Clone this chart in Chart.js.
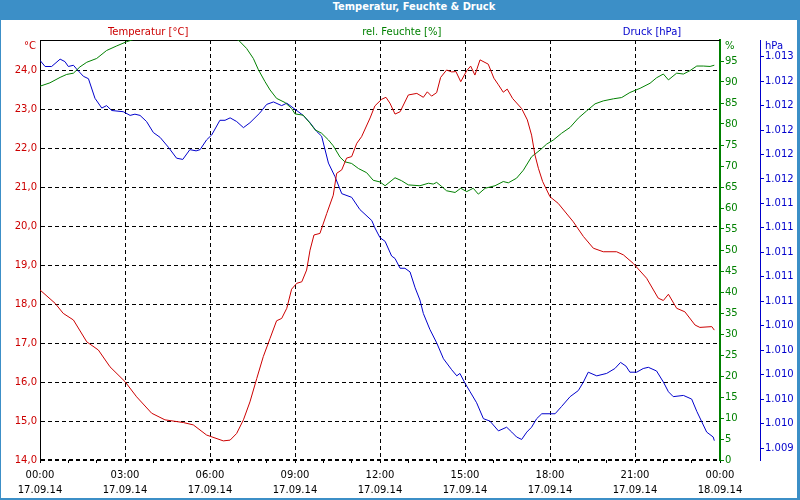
<!DOCTYPE html>
<html>
<head>
<meta charset="utf-8">
<script src="https://cdn.jsdelivr.net/npm/chart.js@4.4.0/dist/chart.umd.min.js"></script>
<style>
  body { margin: 0; background: #fff; }
  #frame { position: relative; width: 800px; height: 500px; background: #3c8fc7; }
  #titlebar {
    position: absolute; left: 0; top: 0; width: 800px; height: 20px; box-sizing: border-box;
    padding-left: 28px; line-height: 20px; text-align: center; color: #fff;
    font: bold 11px "DejaVu Sans Condensed", "DejaVu Sans", sans-serif;
  }
  #plot { position: absolute; left: 1px; top: 20px; width: 796px; height: 478px; background: #fff; }
</style>
</head>
<body>
<div id="frame">
  <div id="titlebar">Temperatur, Feuchte &amp; Druck</div>
  <div id="plot"><canvas id="chart" width="796" height="478"></canvas></div>
</div>
<script>
// Zeitachse (Stunden ab 17.09.14 00:00)
const timeLabels = ['00:00', '03:00', '06:00', '09:00', '12:00', '15:00', '18:00', '21:00', '00:00'];
const dateLabels = ['17.09.14', '17.09.14', '17.09.14', '17.09.14', '17.09.14', '17.09.14', '17.09.14', '17.09.14', '18.09.14'];

// Temperatur [°C]
const tempHours = [0, 0.53, 0.82, 1.18, 1.65, 2.06, 2.47, 3.00, 3.41, 3.94, 4.41, 5.06, 5.41, 5.88, 6.47, 6.71, 6.94, 7.18, 7.41, 7.65,
  7.88, 8.12, 8.35, 8.53, 8.71, 8.88, 9.06, 9.24, 9.41, 9.53, 9.67, 9.88, 10.12, 10.35, 10.47, 10.65, 10.82, 11.00, 11.18, 11.35,
  11.65, 11.82, 12.06, 12.21, 12.35, 12.53, 12.71, 13.00, 13.30, 13.53, 13.67, 13.82, 14.00, 14.14, 14.35, 14.53, 14.68, 14.85, 15.06, 15.20,
  15.35, 15.53, 15.82, 16.02, 16.18, 16.35, 16.49, 16.68, 17.00, 17.20, 17.35, 17.47, 17.59, 17.74, 18.00, 18.29, 18.82, 19.18, 19.53, 19.88,
  20.35, 20.59, 20.94, 21.41, 21.82, 22.00, 22.18, 22.47, 22.76, 23.12, 23.29, 23.71, 23.80];
const tempValues = [18.36, 18.02, 17.76, 17.59, 17.03, 16.82, 16.39, 16.01, 15.62, 15.20, 15.03, 14.96, 14.90, 14.64, 14.49, 14.51, 14.68, 15.03, 15.49, 16.09,
  16.65, 17.12, 17.57, 17.63, 17.89, 18.38, 18.53, 18.57, 18.87, 19.38, 19.77, 19.81, 20.32, 20.79, 21.35, 21.44, 21.74, 21.78, 22.12, 22.29,
  22.77, 23.08, 23.25, 23.30, 23.15, 22.87, 22.93, 23.36, 23.40, 23.30, 23.44, 23.33, 23.42, 23.81, 24.00, 23.95, 23.96, 23.70, 23.98, 24.10,
  23.87, 24.26, 24.15, 23.79, 23.62, 23.43, 23.51, 23.27, 23.01, 22.72, 22.33, 21.82, 21.48, 21.14, 20.75, 20.58, 20.11, 19.73, 19.43, 19.34,
  19.34, 19.26, 19.04, 18.66, 18.15, 18.09, 18.25, 17.89, 17.80, 17.46, 17.40, 17.42, 17.33];

// rel. Feuchte [%] (zwischen ca. 03:15 und 07:00 oberhalb der Skala)
const humHours = [0, 0.35, 0.71, 0.94, 1.18, 1.41, 1.65, 2.00, 2.35, 2.71, 3.06, 3.24, 5.12, 7.00, 7.29, 7.53, 7.71, 7.94, 8.12, 8.35,
  8.65, 8.88, 9.00, 9.29, 9.53, 9.71, 9.94, 10.18, 10.35, 10.59, 10.76, 11.00, 11.24, 11.53, 11.76, 12.00, 12.18, 12.53, 12.76, 13.00,
  13.41, 13.71, 13.88, 14.00, 14.18, 14.35, 14.65, 14.85, 15.06, 15.29, 15.47, 15.71, 16.06, 16.35, 16.53, 16.82, 17.06, 17.35, 17.65, 17.88,
  18.12, 18.41, 18.71, 19.00, 19.29, 19.59, 19.88, 20.24, 20.53, 20.82, 21.18, 21.53, 21.76, 22.00, 22.18, 22.47, 22.71, 22.94, 23.18, 23.41,
  23.65, 23.80];
const humValues = [89.0, 89.8, 91.1, 91.8, 92.1, 93.6, 94.7, 95.6, 97.5, 98.6, 99.6, 100.0, 104.0, 100.0, 98.0, 95.6, 92.9, 90.1, 88.1, 86.1,
  85.1, 83.7, 82.4, 82.1, 80.2, 78.6, 77.8, 76.2, 74.8, 72.1, 71.0, 70.6, 69.4, 68.4, 66.6, 66.2, 65.3, 67.2, 66.5, 65.5,
  65.3, 65.9, 65.7, 66.1, 65.1, 64.1, 63.7, 64.7, 63.9, 64.7, 63.3, 64.7, 65.3, 66.3, 66.0, 67.1, 69.0, 72.2, 73.8, 75.2,
  76.2, 77.8, 79.2, 81.4, 83.1, 84.8, 85.5, 86.0, 86.3, 87.5, 88.5, 89.7, 91.0, 91.9, 90.5, 92.1, 91.9, 92.7, 93.8, 93.8,
  93.7, 94.0];

// Druck [hPa]
const pressHours = [0, 0.18, 0.41, 0.71, 0.88, 1.00, 1.18, 1.29, 1.53, 1.71, 1.94, 2.18, 2.35, 2.53, 2.94, 3.18, 3.35, 3.53, 3.76, 4.00,
  4.24, 4.53, 4.82, 5.04, 5.29, 5.51, 5.65, 5.88, 6.06, 6.35, 6.53, 6.71, 6.94, 7.18, 7.41, 7.76, 8.00, 8.24, 8.53, 8.71,
  9.00, 9.29, 9.53, 9.76, 9.94, 10.18, 10.41, 10.65, 11.00, 11.29, 11.71, 11.82, 12.00, 12.18, 12.41, 12.53, 12.71, 12.88, 13.06, 13.24,
  13.41, 13.53, 13.76, 14.00, 14.24, 14.53, 14.71, 14.82, 15.00, 15.18, 15.41, 15.65, 15.88, 16.18, 16.47, 16.65, 16.82, 17.00, 17.18, 17.35,
  17.53, 17.71, 18.18, 18.41, 18.71, 19.00, 19.18, 19.35, 19.65, 20.00, 20.29, 20.49, 20.68, 20.82, 21.06, 21.29, 21.47, 21.76, 22.00, 22.18,
  22.35, 22.71, 23.00, 23.18, 23.53, 23.76, 23.80];
const pressValues = [1.01297, 1.01292, 1.01292, 1.01298, 1.01296, 1.01292, 1.01293, 1.01290, 1.01284, 1.01282,
  1.01266, 1.01258, 1.01260, 1.01256, 1.01255, 1.01252, 1.01253, 1.01252, 1.01247, 1.01238,
  1.01234, 1.01226, 1.01217, 1.01216, 1.01224, 1.01223, 1.01224, 1.01232, 1.01236, 1.01248,
  1.01248, 1.01250, 1.01247, 1.01242, 1.01246, 1.01254, 1.01261, 1.01263, 1.01260, 1.01262,
  1.01257, 1.01252, 1.01246, 1.01239, 1.01235, 1.01213, 1.01202, 1.01188, 1.01185, 1.01175,
  1.01166, 1.01160, 1.01152, 1.01149, 1.01137, 1.01135, 1.01127, 1.01127, 1.01124, 1.01111,
  1.01101, 1.01090, 1.01077, 1.01066, 1.01053, 1.01044, 1.01039, 1.01041, 1.01033, 1.01026,
  1.01017, 1.01004, 1.01002, 1.00994, 1.00997, 1.00993, 1.00989, 1.00987, 1.00993, 1.00997,
  1.01004, 1.01008, 1.01008, 1.01014, 1.01022, 1.01027, 1.01034, 1.01042, 1.01039, 1.01041,
  1.01045, 1.01050, 1.01047, 1.01042, 1.01042, 1.01045, 1.01046, 1.01043, 1.01034, 1.01026,
  1.01022, 1.01023, 1.01020, 1.01010, 1.00993, 1.00989, 1.00986];

// Achsen-Ticks
const hourTicks = [0, 1, 2, 3, 4, 5, 6, 7, 8, 9, 10, 11, 12, 13, 14, 15, 16, 17, 18, 19, 20, 21, 22, 23, 24];
const tempTicks = [14, 15, 16, 17, 18, 19, 20, 21, 22, 23, 24];
const tempTickLabels = ['14,0', '15,0', '16,0', '17,0', '18,0', '19,0', '20,0', '21,0', '22,0', '23,0', '24,0'];
const humTicks = [0, 5, 10, 15, 20, 25, 30, 35, 40, 45, 50, 55, 60, 65, 70, 75, 80, 85, 90, 95];
const pressTicks = [1.0098, 1.0100, 1.0102, 1.0104, 1.0106, 1.0108, 1.0110, 1.0112, 1.0114, 1.0116,
  1.0118, 1.0120, 1.0122, 1.0124, 1.0126, 1.0128, 1.0130];
const pressTickLabels = ['1.009', '1.010', '1.010', '1.010', '1.010', '1.010', '1.011', '1.011', '1.011', '1.011',
  '1.011', '1.012', '1.012', '1.012', '1.012', '1.012', '1.013'];

const RED = '#cc0000';
const GREEN = '#008000';
const BLUE = '#0000cc';
const FONT = '"DejaVu Sans", Verdana, sans-serif';
const GRID_DASH = [4, 3];

Chart.defaults.font.family = FONT;
Chart.defaults.font.size = 10;

// Position der Reihen-Überschriften (Anteil der Diagrammbreite)
const headerPos = [0.159, 0.532, 0.9];

const headerLabels = {
  id: 'headerLabels',
  beforeDatasetsDraw(chart) {
    // obere Rahmenlinie
    const { ctx, chartArea } = chart;
    ctx.save();
    ctx.strokeStyle = '#000';
    ctx.lineWidth = 1;
    ctx.beginPath();
    ctx.moveTo(chartArea.left, chartArea.top + 0.5);
    ctx.lineTo(chartArea.right, chartArea.top + 0.5);
    ctx.stroke();
    ctx.restore();
  },
  afterDraw(chart) {
    const { ctx, chartArea, scales } = chart;
    ctx.save();
    ctx.font = '10px ' + FONT;
    ctx.textBaseline = 'middle';
    ctx.textAlign = 'center';
    chart.data.datasets.forEach((ds, i) => {
      ctx.fillStyle = ds.borderColor;
      const x = chartArea.left + (chartArea.right - chartArea.left) * headerPos[i];
      ctx.fillText(ds.label, x, chartArea.top - 8);
    });
    // Einheiten oben an den Achsen
    ctx.textAlign = 'right';
    ctx.fillStyle = RED;
    ctx.fillText('°C', scales.yTemp.right - 4, chartArea.top + 6);
    ctx.textAlign = 'left';
    ctx.fillStyle = GREEN;
    ctx.fillText('%', scales.yHum.left + 5, chartArea.top + 6);
    ctx.fillStyle = BLUE;
    ctx.fillText('hPa', scales.yPress.left + 5, chartArea.top + 6);
    ctx.restore();
  }
};

const toPoints = (xs, ys) => xs.map((x, i) => ({ x: x, y: ys[i] }));

new Chart(document.getElementById('chart'), {
  type: 'line',
  data: {
    datasets: [
      { label: 'Temperatur [°C]', data: toPoints(tempHours, tempValues), yAxisID: 'yTemp', borderColor: RED },
      { label: 'rel. Feuchte [%]', data: toPoints(humHours, humValues), yAxisID: 'yHum', borderColor: GREEN, clip: 0 },
      { label: 'Druck [hPa]', data: toPoints(pressHours, pressValues), yAxisID: 'yPress', borderColor: BLUE }
    ]
  },
  options: {
    responsive: false,
    animation: false,
    layout: { padding: { top: 20, left: 0, right: 0, bottom: 0 } },
    elements: {
      line: { borderWidth: 1, tension: 0, fill: false },
      point: { radius: 0, hoverRadius: 0 }
    },
    plugins: { legend: { display: false }, tooltip: { enabled: false }, title: { display: false } },
    scales: {
      x: {
        type: 'linear', position: 'bottom', min: 0, max: 24,
        afterBuildTicks: s => { s.ticks = hourTicks.map(v => ({ value: v })); },
        afterFit: s => { s.height = 38; },
        grid: {
          color: c => (c.tick && c.tick.value % 3 === 0 && c.tick.value > 0 && c.tick.value < 24) ? '#000' : 'rgba(0,0,0,0)',
          tickColor: '#000', tickLength: 3, lineWidth: 1
        },
        border: { display: false, dash: GRID_DASH },
        ticks: {
          autoSkip: false, maxRotation: 0, minRotation: 0, padding: 5, color: '#000',
          font: { size: 10, lineHeight: 1.5 },
          callback: v => (v % 3 === 0 ? [timeLabels[v / 3], dateLabels[v / 3]] : '')
        }
      },
      yTemp: {
        type: 'linear', position: 'left', min: 14, max: 14 + 420 / 39,
        afterBuildTicks: s => { s.ticks = tempTicks.map(v => ({ value: v })); },
        afterFit: s => { s.width = 39; },
        grid: { color: '#000', lineWidth: c => (c.tick && c.tick.value === 14 ? 2 : 1), drawTicks: false },
        border: { display: true, color: '#000', width: 1, dash: GRID_DASH },
        ticks: { padding: 3, color: RED, callback: (v, i) => tempTickLabels[i] }
      },
      yHum: {
        type: 'linear', position: 'right', min: 0, max: 100, weight: 0,
        afterBuildTicks: s => { s.ticks = humTicks.map(v => ({ value: v })); },
        afterFit: s => { s.width = 40; },
        grid: { drawOnChartArea: false, tickLength: 4, tickColor: GREEN },
        border: { color: GREEN, width: 2 },
        ticks: { padding: 1, color: GREEN }
      },
      yPress: {
        type: 'linear', position: 'right', min: 1.0097019, max: 1.0131366, weight: 1,
        afterBuildTicks: s => { s.ticks = pressTicks.map(v => ({ value: v })); },
        afterFit: s => { s.width = 37; },
        grid: { drawOnChartArea: false, tickLength: 4, tickColor: BLUE },
        border: { color: BLUE, width: 1 },
        ticks: { padding: 1, color: BLUE, callback: (v, i) => pressTickLabels[i] }
      }
    }
  },
  plugins: [headerLabels]
});
</script>
</body>
</html>
